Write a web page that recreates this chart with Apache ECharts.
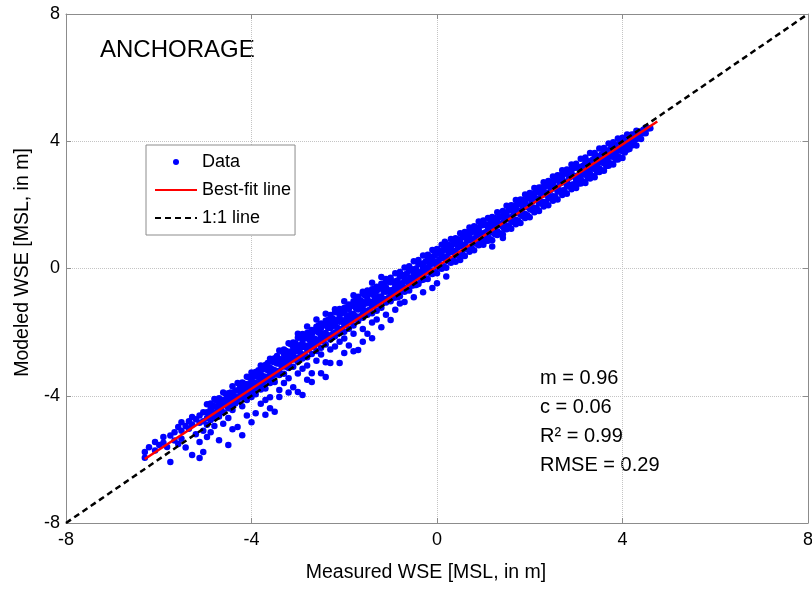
<!DOCTYPE html>
<html>
<head>
<meta charset="utf-8">
<script src="https://cdn.jsdelivr.net/npm/echarts@6/dist/echarts.min.js"></script>
<style>
  html, body { margin: 0; padding: 0; background: #fff; }
  #chart { width: 812px; height: 590px; }
</style>
</head>
<body>
<div id="chart"></div>
<script>
// axis ticks (both axes share them)
var axisTicks = [-8, -4, 0, 4, 8];

// scatter data:
// each row is [measured WSE, modeled WSE, modeled WSE, ...]
var westTail = [
    [-6.30, -5.77, -5.95],
    [-6.21, -5.62],
    [-6.08, -5.45, -5.72],
    [-5.99, -5.55],
    [-5.90, -5.30, -5.48],
    [-5.82, -5.61],
    [-5.75, -6.08, -5.25],
    [-5.66, -5.15, -5.41],
    [-5.58, -4.98, -5.52],
    [-5.51, -4.83, -5.10, -5.35],
    [-5.42, -4.95, -5.63],
    [-5.35, -4.80, -5.04],
    [-5.28, -4.67, -4.90, -5.86],
    [-5.20, -4.74, -5.21],
    [-5.12, -4.62, -4.85, -5.96, -5.45],
    [-5.04, -4.52, -4.80, -5.10, -5.77]
];

var lowerBand = [
    [-4.96, -4.27, -4.52, -4.70, -4.91, -5.30],
    [-4.88, -4.24, -4.40, -4.63, -4.76, -5.15],
    [-4.80, -4.10, -4.33, -4.55, -4.68, -4.95],
    [-4.70, -4.08, -4.18, -4.34, -4.47, -4.65, -5.40],
    [-4.61, -3.90, -4.14, -4.29, -4.52, -4.88],
    [-4.50, -3.92, -4.03, -4.25, -4.39, -4.70, -5.55],
    [-4.41, -3.70, -3.95, -4.08, -4.30, -4.45, -5.05],
    [-4.30, -3.60, -3.83, -4.05, -4.18, -4.98],
    [-4.20, -3.58, -3.70, -3.93, -4.06, -4.33, -5.24],
    [-4.10, -3.40, -3.64, -3.77, -4.00, -4.13, -4.62],
    [-4.00, -3.27, -3.52, -3.66, -3.88, -4.04, -4.83],
    [-3.91, -3.25, -3.37, -3.60, -3.73, -3.95, -4.55],
    [-3.80, -3.05, -3.32, -3.45, -3.68, -3.80, -4.25],
    [-3.70, -3.03, -3.17, -3.40, -3.53, -3.77, -4.13, -4.60],
    [-3.60, -2.84, -3.12, -3.25, -3.47, -3.60, -4.05, -4.39],
    [-3.50, -2.82, -2.95, -3.20, -3.33, -3.57, -4.50],
    [-3.40, -2.58, -2.85, -2.99, -3.23, -3.35, -3.82, -4.04],
    [-3.30, -2.55, -2.69, -2.94, -3.07, -3.31, -3.60],
    [-3.20, -2.35, -2.63, -2.77, -3.01, -3.13, -3.45, -3.90],
    [-3.10, -2.33, -2.47, -2.72, -2.85, -3.09, -3.73],
    [-3.00, -2.05, -2.18, -2.43, -2.57, -2.81, -2.93, -3.30, -3.88],
    [-2.90, -2.06, -2.33, -2.47, -2.71, -2.83, -3.15, -3.98],
    [-2.80, -1.82, -2.03, -2.17, -2.43, -2.55, -2.79, -3.05, -3.50],
    [-2.70, -1.93, -2.07, -2.33, -2.45, -2.69, -3.29, -3.57],
    [-2.60, -1.60, -1.83, -1.97, -2.23, -2.35, -2.59, -2.90],
    [-2.50, -1.73, -1.87, -2.13, -2.25, -2.49, -2.70, -3.29],
    [-2.40, -1.42, -1.64, -1.77, -2.03, -2.15, -2.39, -2.95, -3.41],
    [-2.30, -1.46, -1.73, -1.87, -2.11, -2.23, -2.55, -2.97],
    [-2.20, -1.28, -1.37, -1.63, -1.77, -2.01, -2.13, -2.45],
    [-2.10, -1.27, -1.53, -1.67, -1.91, -2.03, -2.30, -2.97],
    [-2.00, -1.03, -1.24, -1.37, -1.63, -1.75, -1.99, -2.20, -2.66],
    [-1.90, -1.13, -1.27, -1.53, -1.65, -1.89, -2.42],
    [-1.80, -0.84, -1.03, -1.17, -1.43, -1.55, -1.79, -2.05, -2.60],
    [-1.70, -0.89, -1.15, -1.29, -1.53, -1.65, -2.56],
    [-1.60, -0.73, -0.79, -1.05, -1.19, -1.43, -1.55, -1.90, -2.30],
    [-1.50, -0.69, -0.95, -1.09, -1.33, -1.45, -2.05],
    [-1.40, -0.45, -0.65, -0.79, -1.05, -1.17, -1.41, -1.70, -2.19],
    [-1.30, -0.57, -0.71, -0.97, -1.09, -1.33, -1.60],
    [-1.20, -0.27, -0.48, -0.62, -0.88, -0.99, -1.23, -1.85],
    [-1.10, -0.33, -0.59, -0.73, -0.97, -1.07, -1.45],
    [-1.00, -0.29, -0.43, -0.69, -0.81, -1.03, -1.62]
];

var midBand = [
    [-0.90, -0.15, -0.41, -0.55, -0.79, -0.91, -1.30],
    [-0.80, -0.11, -0.25, -0.51, -0.63, -0.87, -1.10],
    [-0.70, 0.03, -0.23, -0.37, -0.61, -0.73, -1.05],
    [-0.60, 0.07, -0.07, -0.33, -0.45, -0.69],
    [-0.50, 0.23, -0.03, -0.17, -0.41, -0.53, -0.90],
    [-0.40, 0.27, 0.13, -0.13, -0.25, -0.49],
    [-0.30, 0.41, 0.15, 0.01, -0.23, -0.35, -0.75],
    [-0.20, 0.43, 0.29, 0.03, -0.09, -0.33],
    [-0.10, 0.58, 0.32, 0.18, -0.06, -0.17, -0.61],
    [0.00, 0.61, 0.47, 0.21, 0.09, -0.15, -0.46],
    [0.10, 0.75, 0.49, 0.35, 0.11, -0.01],
    [0.17, 0.84],
    [0.20, 0.77, 0.63, 0.37, 0.25, 0.02, -0.25],
    [0.30, 0.93, 0.67, 0.53, 0.29, 0.18],
    [0.40, 0.95, 0.81, 0.55, 0.43, 0.21],
    [0.50, 1.11, 0.85, 0.71, 0.45, 0.27],
    [0.60, 1.15, 1.01, 0.75, 0.63, 0.39],
    [0.70, 1.29, 1.03, 0.89, 0.65, 0.53],
    [0.80, 1.33, 1.19, 0.93, 0.81, 0.57],
    [0.90, 1.48, 1.22, 1.08, 0.85, 0.73],
    [1.00, 1.51, 1.37, 1.11, 0.99, 0.75]
];

var upperBand = [
    [1.10, 1.59, 1.35, 1.23, 0.99, 0.87],
    [1.19, 1.62, 1.49, 1.25, 1.13, 0.89, 0.69],
    [1.30, 1.77, 1.52, 1.40, 1.17, 1.05],
    [1.42, 1.81, 1.67, 1.43, 1.31, 1.07, 0.96],
    [1.50, 1.97, 1.71, 1.59, 1.35, 1.23],
    [1.60, 1.99, 1.85, 1.61, 1.49, 1.25],
    [1.70, 2.15, 1.89, 1.77, 1.53, 1.39],
    [1.80, 2.17, 2.05, 1.81, 1.69, 1.43],
    [1.90, 2.33, 2.07, 1.95, 1.71, 1.59],
    [2.00, 2.37, 2.23, 1.99, 1.87, 1.61],
    [2.10, 2.53, 2.27, 2.15, 1.91, 1.77],
    [2.20, 2.55, 2.43, 2.19, 2.05, 1.81],
    [2.30, 2.71, 2.45, 2.33, 2.09, 1.95],
    [2.40, 2.75, 2.61, 2.37, 2.23, 1.99],
    [2.50, 2.89, 2.65, 2.53, 2.27, 2.13],
    [2.60, 2.93, 2.81, 2.55, 2.43, 2.17],
    [2.70, 3.09, 2.83, 2.71, 2.45, 2.31],
    [2.80, 3.11, 2.99, 2.73, 2.61, 2.35],
    [2.90, 3.27, 3.01, 2.89, 2.63, 2.49],
    [3.00, 3.29, 3.17, 2.91, 2.79, 2.53],
    [3.10, 3.45, 3.19, 3.07, 2.81, 2.67],
    [3.20, 3.49, 3.33, 3.09, 2.95, 2.69],
    [3.30, 3.63, 3.37, 3.25, 2.99, 2.83],
    [3.40, 3.63, 3.51, 3.27, 3.13, 2.87],
    [3.50, 3.77, 3.53, 3.41, 3.15, 3.03],
    [3.60, 3.79, 3.69, 3.45, 3.31, 3.07],
    [3.70, 3.93, 3.71, 3.59, 3.35, 3.23],
    [3.80, 3.97, 3.87, 3.63, 3.51, 3.27],
    [3.90, 4.09, 3.89, 3.77, 3.53, 3.43],
    [4.00, 4.11, 4.03, 3.81, 3.69, 3.47],
    [4.10, 4.21, 4.03, 3.95, 3.73],
    [4.20, 4.21, 4.15, 3.95, 3.87],
    [4.30, 4.33, 4.15, 4.07, 3.87],
    [4.40, 4.31, 4.25, 4.07],
    [4.50, 4.43, 4.25],
    [4.60, 4.41]
];

// the solid core of the band, read between the columns above
var bandCore = [
    [-4.85, -4.30, -4.50, -4.68], [-4.75, -4.16, -4.35, -4.53], [-4.65, -4.13, -4.34, -4.50],
    [-4.55, -3.95, -4.13, -4.31], [-4.45, -3.90, -4.10, -4.27], [-4.35, -3.84, -4.04, -4.24],
    [-4.25, -3.67, -3.86, -4.04], [-4.15, -3.62, -3.83, -4.01], [-4.05, -3.43, -3.64, -3.82],
    [-3.95, -3.40, -3.61, -3.80], [-3.85, -3.20, -3.42, -3.61], [-3.75, -3.16, -3.39, -3.59],
    [-3.65, -2.97, -3.19, -3.40], [-3.55, -2.93, -3.17, -3.38], [-3.45, -2.75, -2.99, -3.23],
    [-3.35, -2.60, -2.85, -3.09], [-3.25, -2.59, -2.85, -3.09], [-3.15, -2.38, -2.61, -2.85],
    [-3.05, -2.35, -2.60, -2.86], [-2.95, -2.17, -2.41, -2.65], [-2.85, -2.19, -2.45, -2.70],
    [-2.75, -2.01, -2.25, -2.50], [-2.65, -1.95, -2.20, -2.45], [-2.55, -1.78, -2.02, -2.26],
    [-2.45, -1.79, -2.04, -2.29], [-2.35, -1.62, -1.86, -2.11], [-2.25, -1.56, -1.81, -2.06],
    [-2.15, -1.38, -1.62, -1.86], [-2.05, -1.40, -1.65, -1.90], [-1.95, -1.22, -1.47, -1.71],
    [-1.85, -1.17, -1.42, -1.67], [-1.75, -1.02, -1.25, -1.50], [-1.65, -1.00, -1.25, -1.50],
    [-1.55, -0.85, -1.10, -1.34], [-1.45, -0.79, -1.05, -1.30], [-1.35, -0.63, -0.88, -1.13],
    [-1.25, -0.64, -0.89, -1.14], [-1.15, -0.47, -0.72, -0.97], [-1.05, -0.42, -0.68, -0.93],
    [-0.95, -0.41, -0.67, -0.93], [-0.85, -0.38, -0.64, -0.90], [-0.75, -0.20, -0.46, -0.71],
    [-0.65, -0.16, -0.42, -0.68], [-0.55, -0.02, -0.28, -0.54], [-0.45, 0.00, -0.26, -0.52],
    [-0.35, 0.15, -0.11, -0.37], [-0.25, 0.21, -0.05, -0.31], [-0.15, 0.38, 0.12, -0.14],
    [-0.05, 0.41, 0.15, -0.11], [0.05, 0.55, 0.29, 0.03], [0.15, 0.58, 0.32, 0.06],
    [0.25, 0.75, 0.49, 0.23], [0.35, 0.77, 0.51, 0.25], [0.45, 0.92, 0.66, 0.40],
    [0.55, 0.98, 0.72, 0.46], [0.65, 1.13, 0.87, 0.61], [0.75, 1.15, 0.89, 0.63],
    [0.85, 1.30, 1.04, 0.78], [0.95, 1.35, 1.09, 0.83], [1.05, 1.39, 1.14, 0.87],
    [1.15, 1.43, 1.18, 0.92], [1.25, 1.59, 1.34, 1.08], [1.35, 1.62, 1.37, 1.11],
    [1.45, 1.76, 1.51, 1.24], [1.55, 1.83, 1.58, 1.32], [1.65, 1.97, 1.72, 1.45],
    [1.75, 2.01, 1.76, 1.50], [1.85, 2.15, 1.90, 1.64], [1.95, 2.19, 1.94, 1.67],
    [2.05, 2.35, 2.10, 1.84], [2.15, 2.40, 2.15, 1.89], [2.25, 2.55, 2.30, 2.04],
    [2.35, 2.59, 2.34, 2.08], [2.45, 2.72, 2.47, 2.20], [2.55, 2.77, 2.52, 2.26],
    [2.65, 2.92, 2.67, 2.41], [2.75, 2.98, 2.73, 2.47], [2.85, 3.10, 2.85, 2.59],
    [2.95, 3.16, 2.91, 2.65], [3.05, 3.19, 2.93, 2.67], [3.15, 3.23, 2.98, 2.73],
    [3.25, 3.36, 3.10, 2.85], [3.35, 3.41, 3.16, 2.91], [3.45, 3.53, 3.28, 3.03],
    [3.55, 3.59, 3.34, 3.09], [3.65, 3.71, 3.46, 3.22], [3.75, 3.77, 3.52, 3.29],
    [3.85, 3.89, 3.65, 3.43], [3.95, 3.95, 3.71, 3.49], [4.05, 4.05, 3.83, 3.65],
    [4.15, 4.12, 3.92, 3.76], [4.25, 4.21, 4.04, 3.90], [4.35, 4.29, 4.14],
    [4.45, 4.36, 4.25], [4.55, 4.40]
];

// fitted line (m = 0.96, c = 0.06) and the 1:1 reference line
var bestFitX = [-6.3, 4.75];
var bestFitY = [-5.99, 4.62];
var oneToOneX = [-8, 8];
var oneToOneY = [-8, 8];

var statLines = ['m = 0.96', 'c = 0.06', 'R\u00B2 = 0.99', 'RMSE = 0.29'];

// flatten the columns into [x, y] pairs for the scatter series
function toPoints(rows) {
    var pts = [];
    rows.forEach(function (row) {
        for (var i = 1; i < row.length; i++) {
            pts.push([row[0], row[i]]);
        }
    });
    return pts;
}
var scatterData = toPoints(westTail)
    .concat(toPoints(lowerBand))
    .concat(toPoints(midBand))
    .concat(toPoints(upperBand))
    .concat(toPoints(bandCore));

function zip(xs, ys) {
    return xs.map(function (x, i) { return [x, ys[i]]; });
}

var font = 'Liberation Sans, Arial, Helvetica, sans-serif';
var frameColor = '#8c8c8c';

function frameAxis(pos, showLabel, name) {
    var isX = (pos === 'bottom' || pos === 'top');
    return {
        type: 'value',
        position: pos,
        min: axisTicks[0],
        max: axisTicks[axisTicks.length - 1],
        interval: 4,
        name: name || '',
        nameLocation: 'middle',
        nameGap: isX ? 40 : 30,
        nameTextStyle: { fontSize: 19.5, color: '#000', fontFamily: font,
                         padding: isX ? [0, 22, 0, 0] : [0, 0, 0, 12] },
        axisLine: { show: true, onZero: false, lineStyle: { color: frameColor, width: 1 } },
        axisTick: { show: true, inside: true, length: 5, lineStyle: { color: frameColor } },
        axisLabel: { show: showLabel, fontSize: 18, color: '#000', fontFamily: font,
                     margin: isX ? 8 : 6 },
        splitLine: { show: showLabel, lineStyle: { color: '#c4c4c4', type: 'dotted', width: 1 } }
    };
}

var myChart = echarts.init(document.getElementById('chart'));

var option = {
    backgroundColor: '#fff',
    animation: false,
    grid: { left: 66, right: 4, top: 14, bottom: 67, containLabel: false, outerBoundsMode: 'none' },
    xAxis: [
        frameAxis('bottom', true, 'Measured WSE [MSL, in m]'),
        frameAxis('top', false)
    ],
    yAxis: [
        frameAxis('left', true, 'Modeled WSE [MSL, in m]'),
        frameAxis('right', false)
    ],
    legend: {
        orient: 'vertical',
        left: 146,
        top: 145,
        itemWidth: 42,
        itemHeight: 14,
        itemGap: 10,
        padding: [8, 4, 8, 8],
        borderColor: frameColor,
        borderWidth: 1,
        borderRadius: 0,
        backgroundColor: '#fff',
        textStyle: { fontSize: 18, color: '#000', fontFamily: font },
        data: [
            { name: 'Data', icon: 'path://M0 0M42 14M18 7a3 3 0 1 0 6 0a3 3 0 1 0 -6 0' },
            { name: 'Best-fit line', itemStyle: { opacity: 0 } },
            { name: '1:1 line', itemStyle: { opacity: 0 } }
        ]
    },
    graphic: [
        {
            type: 'text', x: 100, y: 50,
            style: { text: 'ANCHORAGE', fontSize: 24, fontFamily: font, fill: '#000', verticalAlign: 'middle' }
        }
    ].concat(statLines.map(function (t, i) {
        return {
            type: 'text', x: 540, y: 378 + i * 29,
            style: { text: t, fontSize: 20, fontFamily: font, fill: '#000', verticalAlign: 'middle' }
        };
    })),
    series: [
        {
            name: 'Data',
            type: 'scatter',
            symbol: 'circle',
            symbolSize: 6.5,
            itemStyle: { color: '#0000ff', opacity: 1 },
            data: scatterData,
            z: 2
        },
        {
            name: 'Best-fit line',
            type: 'line',
            symbol: 'none',
            lineStyle: { color: '#ff0000', width: 2.5 },
            itemStyle: { color: '#ff0000' },
            data: zip(bestFitX, bestFitY),
            z: 3
        },
        {
            name: '1:1 line',
            type: 'line',
            symbol: 'none',
            lineStyle: { color: '#000', width: 2.5, type: [6, 4] },
            itemStyle: { color: '#000' },
            data: zip(oneToOneX, oneToOneY),
            z: 4
        }
    ]
};

myChart.setOption(option);
</script>
</body>
</html>
